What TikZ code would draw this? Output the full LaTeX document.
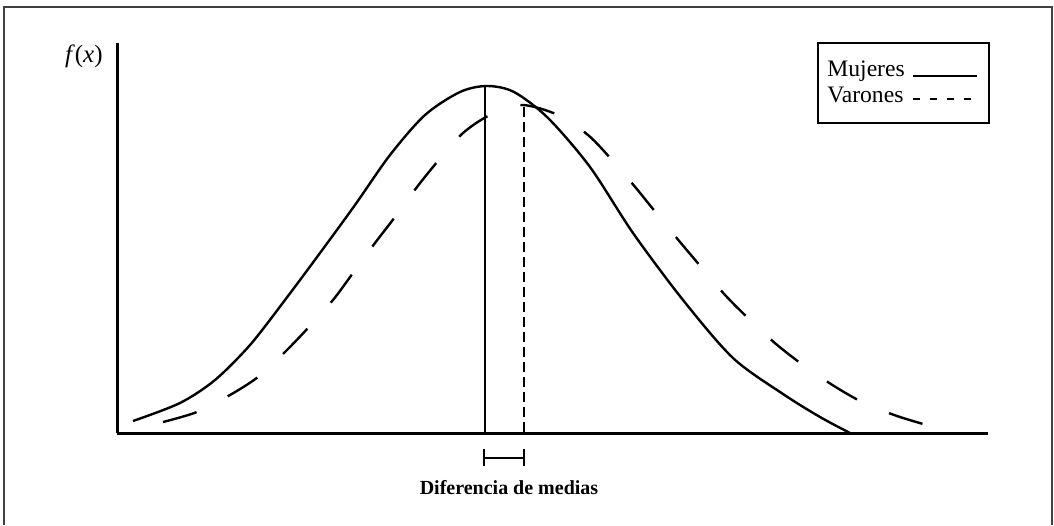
\documentclass[tikz,border=0pt]{standalone}
\usepackage{fontspec}
\setmainfont{Liberation Serif}
\usepackage{tikz}

\begin{document}
\begin{tikzpicture}[x=0.5pt,y=-0.5pt]
\useasboundingbox (0,0) rectangle (1054,525);
%\draw (0,0) grid (1054,525);

\draw [line width=0.8pt,black!75] (4,525) -- (4,7) -- (1052,7) -- (1052,525);

% ejes
\draw [line width=1.5pt] (117,43) -- (117,433);
\draw [line width=1.5pt] (117,433) -- (988,433);
\node (fx) [anchor=base east,inner sep=0pt,font=\fontsize{12.5}{14}\selectfont] at (103,62) {\textit{f}(\textit{x})};

% curvas
\draw [line width=1.2pt] plot [smooth] coordinates {(133,421) (180,403) (215,380) (250,345) (285,300) (320,253) (355,205) (390,155) (425,115) (460,92) (487,86) (514,92) (548,118) (590,167) (633,233) (683,300) (733,358) (783,394) (820,417) (850,433)};
\draw [line width=1.2pt,dash pattern=on 17.5pt off 17.5pt] plot [smooth] coordinates {(163,422) (197,412) (230,395) (258,377) (285,352) (308,328) (333,300) (353,273) (375,243) (395,217) (417,187) (438,161) (463,133) (490,115) (522,105) (558,115) (588,135) (612,160) (636,188) (657,214) (680,242) (702,268) (726,296) (750,320) (776,344) (803,365) (834,386) (864,403) (897,416) (930,426)};

\draw [line width=0.8pt] (485,87) -- (485,433);
\draw [line width=1pt,dash pattern=on 5pt off 2.5pt] (524,107) -- (524,433);

% diferencia de medias
\draw [line width=0.6pt] (484,449) -- (484,466); \draw [line width=0.6pt] (524,449) -- (524,466); \draw [line width=0.6pt] (484,458) -- (524,458);
\node (dif) [anchor=base,inner sep=0pt,font=\fontsize{10}{12}\selectfont\bfseries] at (509,494) {Diferencia de medias};

% leyenda
\draw [line width=1pt] (818,43) rectangle (989,123);
\node (muj) [anchor=base west,inner sep=0pt,font=\fontsize{11.8}{13}\selectfont] at (827,76) {Mujeres};
\node (var) [anchor=base west,inner sep=0pt,font=\fontsize{11.8}{13}\selectfont] at (827,102) {Varones};
\draw [line width=1.2pt] (913,76) -- (977,76);
\draw [line width=1.2pt,dash pattern=on 3.5pt off 5pt] (913,99) -- (977,99);
\end{tikzpicture}
\end{document}
